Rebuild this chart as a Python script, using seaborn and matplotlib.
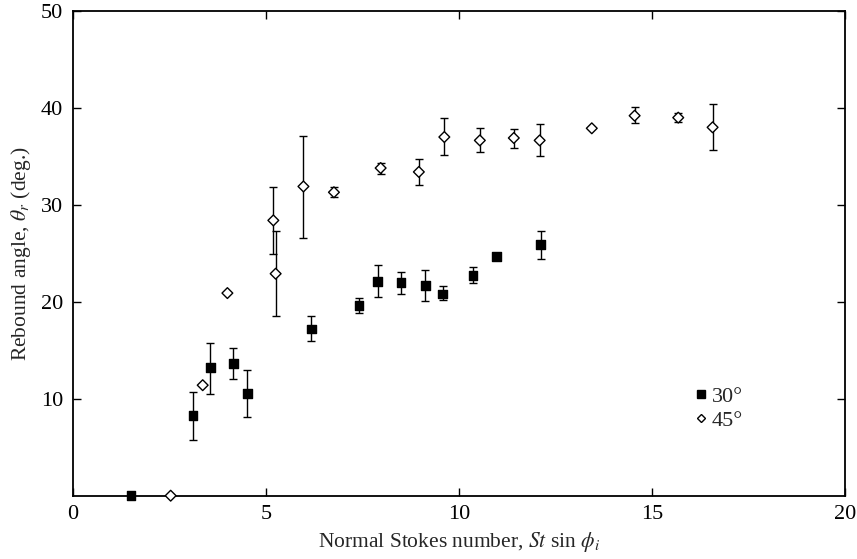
import numpy as np
import pandas as pd
import matplotlib
matplotlib.use("Agg")
import matplotlib.pyplot as plt
import seaborn as sns

# 30 degree series (filled squares)
x30 = [1.5, 3.11, 3.56, 4.15, 4.52, 6.17, 7.41, 7.89, 8.50, 9.13, 9.58, 10.36, 10.98, 12.12]
y30 = [0.0, 8.25, 13.2, 13.6, 10.55, 17.2, 19.6, 22.1, 22.0, 21.7, 20.8, 22.7, 24.65, 25.9]
lo30 = [np.nan, 5.75, 10.5, 12.0, 8.1, 16.0, 18.8, 20.5, 20.8, 20.1, 20.15, 21.9, np.nan, 24.45]
hi30 = [np.nan, 10.7, 15.8, 15.2, 13.0, 18.5, 20.4, 23.8, 23.1, 23.25, 21.6, 23.55, np.nan, 27.3]

# 45 degree series (open diamonds)
x45 = [2.53, 3.36, 4.0, 5.19, 5.25, 5.97, 6.76, 7.97, 8.96, 9.62, 10.54, 11.42, 12.09, 13.44, 14.55, 15.68, 16.57]
y45 = [0.0, 11.4, 20.9, 28.4, 22.9, 31.9, 31.3, 33.8, 33.4, 37.0, 36.65, 36.9, 36.65, 37.9, 39.2, 39.0, 38.0]
lo45 = [np.nan, np.nan, np.nan, 24.9, 18.5, 26.6, 30.8, 33.2, 32.0, 35.1, 35.45, 35.9, 35.0, np.nan, 38.4, 38.5, 35.7]
hi45 = [np.nan, np.nan, np.nan, 31.8, 27.3, 37.1, 31.8, 34.3, 34.7, 39.0, 37.9, 37.8, 38.3, np.nan, 40.05, 39.5, 40.4]

series_labels = ["30°", "45°"]
xticks = [0, 5, 10, 15, 20]
yticks = [10, 20, 30, 40, 50]

sns.set_theme(style="ticks")
plt.rcParams["font.family"] = ["Liberation Serif", "DejaVu Serif"]
plt.rcParams["mathtext.fontset"] = "stix"
plt.rcParams["xtick.direction"] = "in"
plt.rcParams["ytick.direction"] = "in"

df = pd.concat([
    pd.DataFrame({"x": x30, "y": y30, "lo": lo30, "hi": hi30, "s": series_labels[0]}),
    pd.DataFrame({"x": x45, "y": y45, "lo": lo45, "hi": hi45, "s": series_labels[1]}),
], ignore_index=True)

fig = plt.figure(figsize=(8.57, 5.59), dpi=100)
ax = fig.add_axes([73/857, 1 - 495.7/559, 772/857, 484.7/559])

for lab in series_labels:
    d = df[df.s == lab]
    m = d["lo"].notna()
    ax.errorbar(d.x[m], d.y[m], yerr=[d.y[m] - d.lo[m], d.hi[m] - d.y[m]],
                fmt="none", ecolor="black", elinewidth=1.0, capsize=2.6, capthick=1.0, zorder=2)

sns.scatterplot(data=df, x="x", y="y", hue="s", style="s",
                markers={"30°": "s", "45°": "D"},
                palette={"30°": "black", "45°": "white"},
                size="s", sizes={"30°": 40, "45°": 30},
                edgecolor="black", linewidth=1.0, ax=ax, zorder=3, clip_on=False)

ax.set_xlim(0, 20)
ax.set_ylim(0, 50)
ax.set_xticks(xticks)
ax.set_yticks(yticks)
ax.tick_params(which="both", top=True, right=True, length=6, width=1.0,
               labelsize=16, colors="black", pad=7)
for sp in ax.spines.values():
    sp.set_linewidth(1.3)
    sp.set_color("black")
ax.set_xlabel(r"Normal Stokes number, $St$ sin $\phi_i$", fontsize=15.5, labelpad=4)
ax.set_ylabel(r"Rebound angle, $\theta_r$ (deg.)", fontsize=15.5, labelpad=6)

handles, labels = ax.get_legend_handles_labels()
leg = ax.legend(handles[:2], labels[:2], loc="center left", bbox_to_anchor=(0.773, 0.18),
                frameon=False, fontsize=16, handletextpad=0.0, labelspacing=0.15,
                handlelength=1.0, markerscale=0.8)

fig.savefig("out.png", dpi=100)
